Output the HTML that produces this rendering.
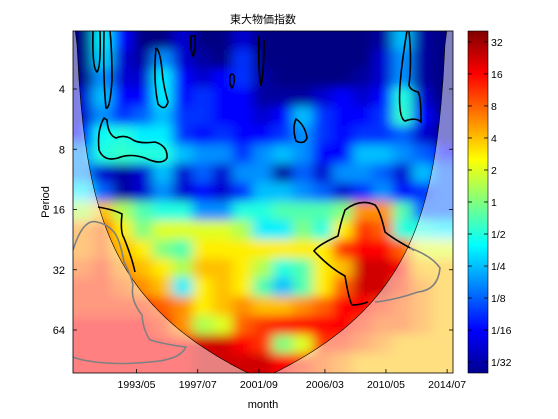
<!DOCTYPE html>
<html><head><meta charset="utf-8"><style>
html,body{margin:0;padding:0;background:#fff;}
svg{display:block;font-family:"Liberation Sans","Noto Sans CJK JP",sans-serif;}
</style></head><body>
<svg id="chart" width="558" height="419" viewBox="0 0 558 419" xmlns="http://www.w3.org/2000/svg">
<defs>
<clipPath id="plotclip"><rect x="73" y="31" width="380" height="342"/></clipPath>
<filter id="blur" x="-5%" y="-5%" width="110%" height="110%"><feGaussianBlur stdDeviation="6 5"/></filter>
<linearGradient id="jetgrad" x1="0" y1="1" x2="0" y2="0">
<stop offset="0" stop-color="#00008f"/><stop offset="0.125" stop-color="#0000ff"/>
<stop offset="0.375" stop-color="#00ffff"/><stop offset="0.625" stop-color="#ffff00"/>
<stop offset="0.875" stop-color="#ff0000"/><stop offset="1" stop-color="#800000"/>
</linearGradient>
</defs>
<text x="263" y="23" font-size="11" text-anchor="middle">東大物価指数</text>
<g clip-path="url(#plotclip)">
<g id="cells" filter="url(#blur)"></g>
<path id="coi-fade" fill="#fff" fill-opacity="0.5" fill-rule="evenodd"/>
<path id="coi-line" fill="none" stroke="#000" stroke-width="0.6"/>
<g fill="none" stroke="#000" stroke-width="1.6">
<path d="M93,31 Q92,68 97,72 Q101,68 100,31"/>
<path d="M104,31 Q103,80 106,108 Q110,110 112,80 Q112,50 110,31"/>
<path d="M156,48 Q153,80 158,104 Q165,112 168,102 Q163,85 162,70 Q160,50 156,48"/>
<path d="M191,36 Q190,50 193,56 Q196,50 195,36 Z"/>
<path d="M230,76 Q229,84 232,88 Q235,84 234,76 Q232,72 230,76 Z"/>
<path d="M259,36 Q258,70 261,86 Q264,70 264,40"/>
<path d="M104,118 Q97,130 99,150 Q104,162 118,158 Q130,153 145,158 Q162,166 167,158 Q168,146 155,142 Q140,144 133,140 Q125,134 116,138 Q108,135 107,120 Z"/>
<path d="M296,119 Q292,128 296,141 Q304,145 307,138 Q305,125 296,119 Z"/>
<path d="M407,31 Q402,60 400,85 Q398,118 405,121 Q416,117 421,122 Q421,95 418,92 Q410,90 409,85 Q412,60 409,31"/>
<path d="M98,207 Q115,210 122,214 Q120,232 124,238 Q132,258 135,272"/>
<path d="M414,250 Q395,240 385,232 Q380,210 375,205 Q360,198 345,210 Q340,225 338,236 Q318,245 314,251 Q330,268 345,276 Q349,300 352,305 Q360,305 368,302"/>
</g>
<g fill="none" stroke="#808080" stroke-width="1.6">
<path d="M73,250 Q83,218 97,222 Q107,224 114,232 Q120,240 124,262 Q131,275 133,285 Q130,300 142,315 Q143,330 150,340 Q168,345 186,347 Q180,360 150,362 Q120,365 95,362 Q80,360 73,357"/>
<path d="M410,248 Q432,256 440,268 Q438,290 418,292 Q395,300 375,302"/>
</g>
</g>
<rect x="73" y="31" width="380" height="342" fill="none" stroke="#000" stroke-width="0.8"/>
<g id="yaxis"></g>
<g id="xaxis"></g>
<text transform="translate(49,202) rotate(-90)" font-size="11" text-anchor="middle">Period</text>
<text x="263" y="408" font-size="11" text-anchor="middle">month</text>
<rect x="468" y="31" width="20" height="342" fill="url(#jetgrad)" stroke="#000" stroke-width="0.6"/>
<g id="cbaxis"></g>
</svg>
<script>
// data
const periodTicks = [4, 8, 16, 32, 64];
const timeTickLabels = ["1993/05","1997/07","2001/09","2006/03","2010/05","2014/07"];
const timeTickPos = [1993.33, 1997.5, 2001.67, 2006.17, 2010.33, 2014.5];
const colorbarLabels = ["32","16","8","4","2","1","1/2","1/4","1/8","1/16","1/32"];
const colorbarValues = [5,4,3,2,1,0,-1,-2,-3,-4,-5];
// log2 power, rows from short period (top) to long period (bottom)
const power = [
[-5.3,-1.5,-4,-5.3,-5.3,-4.5,-5.3,-5.3,-4.5,-5.3,-5.3,-5.3,-5.3,-5.3,-5.3,-5,-2,-5,-5.3],
[-5.3,-1.8,-4.5,-5,-2.5,-4.5,-5,-5.3,-3.5,-5.3,-5.3,-5.3,-5.3,-5.3,-5.3,-4.5,-2.5,-5,-5.3],
[-5.3,-2.5,-4.5,-4.5,-1.5,-4,-4.5,-4,-3.5,-5,-5.3,-5.3,-5.3,-5.3,-5,-4.5,-2.5,-5,-5.3],
[-4.5,-2,-4,-4,-1.5,-4,-3.5,-4,-4,-5,-5,-5,-4.5,-4,-4.5,-4,-1,-4.5,-5.3],
[-4.5,-2.5,-3.5,-3,-2,-3.5,-3.5,-4,-4,-4.5,-4,-2,-3.5,-4,-4,-3.5,-0.8,-4,-5],
[-4,-1.2,-1,-1.5,-1.5,-3.5,-4,-3.5,-4,-4,-3.5,-2.5,-3.5,-4,-3.5,-3.5,-3,-4.5,-5],
[-2.5,-1,-0.8,-1,-1,-2,-2.5,-2.5,-3.5,-2.5,-2,-2.5,-4,-4,-2,-2,-2.5,-3,-4],
[-2.5,-4.5,-5,-4.5,-2,-4.5,-3,-4.5,-2.5,-2.5,-5,-3,-4.5,-2.5,-2.5,-3,-4.5,-2,-3],
[-1.5,-3,-5,-4.5,-2.5,-4.5,-4,-4.5,-3.5,-2,-2,-2.5,-3,-4.5,-3.5,-2.5,-4,-3.5,-3],
[0.5,2,0.5,-0.5,-1,-1,-2.5,-2.5,-1,-1,-0.5,-0.5,-0.5,0,2.5,2.5,-0.5,-3,-3],
[2.5,3,1.5,0,1,1,1,1,0.5,-1.5,-1.5,0,-1,1.5,3.5,3,-1,-1,-1.5],
[2.5,3,2,1.5,0,-0.5,1.5,1.5,1.5,1.5,1.5,1.5,1.5,3.5,4,4,3,1,1],
[3,3.5,2.5,2,1.5,0.5,2,2,1.5,0.5,-1,-0.5,1.5,2,4.5,4.5,4,2,2],
[3.5,3.5,3,2.5,2,-1.5,1.5,2,1.5,-0.5,-2,-0.5,1.5,3,4.5,4.5,3.5,2.5,2],
[3.5,3.5,3.5,3.5,3,2.5,1.5,2,2.5,2,2,2.5,3,4,4,3.5,3,2.5,2],
[4,4,4,4,3.5,2.5,0.5,1,3,3.5,4,4,4,4,3.5,3,3,2.5,2],
[4,4,4,4,4,4,4.5,4.5,4,3.5,0,1,3.5,3.5,3,2.5,2,2,2],
[4,4,4,4,4,4,4.5,4.5,4.5,4.5,4,3.5,3,2.5,2,2,2,2,2]
];
const NS="http://www.w3.org/2000/svg";
const X0=73,X1=453,Y0=31,Y1=373;
const T0=1989.0, T1=2014.9;
const xScale=t=>X0+(t-T0)/(T1-T0)*(X1-X0);
const yScale=p=>89+Math.log2(p/4)*60.25;
const cmin=-5.34,cmax=5.34;
const cbY=v=>Y1-(v-cmin)/(cmax-cmin)*(Y1-Y0);
function jet(v){let t=(v-cmin)/(cmax-cmin);t=Math.max(0,Math.min(1,t));
const c=x=>Math.round(255*Math.max(0,Math.min(1,x)));
return `rgb(${c(1.5-Math.abs(4*t-3))},${c(1.5-Math.abs(4*t-2))},${c(1.5-Math.abs(4*t-1))})`;}
function mk(tag,attrs,parent){const e=document.createElementNS(NS,tag);for(const k in attrs)e.setAttribute(k,attrs[k]);parent.appendChild(e);return e;}
// heatmap
const cells=document.getElementById('cells');
const nR=power.length,nC=power[0].length;
const cw=(X1-X0)/nC,rh=(Y1-Y0)/nR;
for(let r=0;r<nR;r++)for(let c=0;c<nC;c++){
let x=X0+c*cw-0.5,w=cw+1,y=Y0+r*rh-0.5,h=rh+1;
if(c===0){x-=20;w+=20;} if(c===nC-1){w+=20;}
if(r===0){y-=20;h+=20;} if(r===nR-1){h+=20;}
const el=mk('rect',{x:x,y:y,width:w,height:h,fill:jet(power[r][c])},cells);


}
// cone of influence
const L=73,R=449,k=0.6;
let pts=[];
for(let x=L;x<=R;x+=2){const d=Math.max(0.5,Math.min(x-L,R-x));let y=yScale(d*k);y=Math.max(Y0-2,Math.min(Y1+2,y));pts.push([x,y]);}
const line='M'+pts.map(p=>p[0]+','+p[1].toFixed(1)).join(' L');
document.getElementById('coi-line').setAttribute('d',line);
document.getElementById('coi-fade').setAttribute('d',`M${X0-2},${Y0-2} L${X0-2},${Y1+2} L${X1+2},${Y1+2} L${X1+2},${Y0-2} Z `+'M'+L+','+(Y0-2)+' '+pts.map(p=>'L'+p[0]+','+p[1].toFixed(1)).join(' ')+' L'+R+','+(Y0-2)+' Z');
// y axis
const ya=document.getElementById('yaxis');
periodTicks.forEach(p=>{const y=yScale(p);
const t=mk('line',{x1:X0,x2:X0+4,y1:y,y2:y,stroke:'#000','stroke-width':0.8},ya);

const t2=mk('line',{x1:X1-4,x2:X1,y1:y,y2:y,stroke:'#000','stroke-width':0.8},ya);

const l=mk('text',{x:X0-8,y:y+4,'font-size':11,'text-anchor':'end'},ya);l.textContent=p;
});
// x axis
const xa=document.getElementById('xaxis');
timeTickPos.forEach((t,i)=>{const x=xScale(t);
const tk=mk('line',{x1:x,x2:x,y1:Y1,y2:Y1-4,stroke:'#000','stroke-width':0.8},xa);

const l=mk('text',{x:x,y:Y1+15,'font-size':10.5,'text-anchor':'middle'},xa);l.textContent=timeTickLabels[i];
});
// colorbar
const cb=document.getElementById('cbaxis');
colorbarValues.forEach((v,i)=>{const y=cbY(v);
const tk=mk('line',{x1:484,x2:488,y1:y,y2:y,stroke:'#000','stroke-width':0.8},cb);

const tk2=mk('line',{x1:468,x2:472,y1:y,y2:y,stroke:'#000','stroke-width':0.8},cb);

const l=mk('text',{x:491,y:y+4,'font-size':10.5},cb);l.textContent=colorbarLabels[i];
});
</script>
</body></html>
